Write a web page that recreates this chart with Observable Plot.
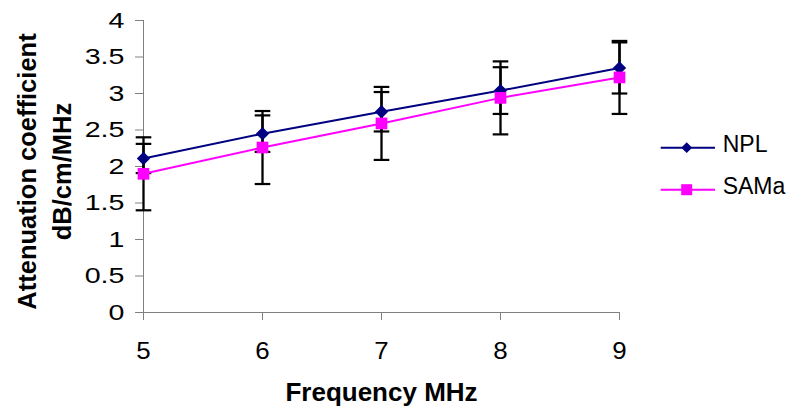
<!DOCTYPE html>
<html>
<head>
<meta charset="utf-8">
<script src="https://cdn.jsdelivr.net/npm/d3@7"></script>
<script src="https://cdn.jsdelivr.net/npm/@observablehq/plot@0.6"></script>
<style>
  html, body { margin: 0; padding: 0; background: #fff; }
  #chart { position: relative; width: 797px; height: 414px; font-family: "Liberation Sans", Arial, sans-serif; }
  #legend { position: absolute; left: 650px; top: 120px; }
</style>
</head>
<body>
<div id="chart"></div>
<script>
// ---- data ----
const frequency = [5, 6, 7, 8, 9];
const nplValues = [2.11, 2.45, 2.75, 3.04, 3.35];
const nplErrors = [0.20, 0.25, 0.27, 0.32, 0.35];
const samaValues = [1.90, 2.26, 2.59, 2.94, 3.22];
const samaErrors = [0.5, 0.5, 0.5, 0.5, 0.5];
const seriesNames = ["NPL", "SAMa"];
const seriesColors = ["#000080", "#FF00FF"];
const xTicks = [5, 6, 7, 8, 9];
const yTicks = [0, 0.5, 1, 1.5, 2, 2.5, 3, 3.5, 4];
const xTitle = "Frequency MHz";
const yTitle = "Attenuation coefficient\ndB/cm/MHz";

// ---- build table ----
const rows = [];
frequency.forEach((f, i) => {
  rows.push({freq: f, value: nplValues[i], err: nplErrors[i], series: seriesNames[0]});
});
frequency.forEach((f, i) => {
  rows.push({freq: f, value: samaValues[i], err: samaErrors[i], series: seriesNames[1]});
});
const caps = rows.flatMap(d => [{freq: d.freq, y: d.value - d.err}, {freq: d.freq, y: d.value + d.err}]);

const capSymbol = {
  draw(context, size) {
    const r = Math.sqrt(size / Math.PI);
    context.moveTo(-r, 0);
    context.lineTo(r, 0);
  }
};

const font = '"Liberation Sans", Arial, sans-serif';
const axisGray = "#808080";

const svg = Plot.plot({
  width: 797,
  height: 414,
  marginTop: 20,
  marginLeft: 143,
  marginRight: 178,
  marginBottom: 102,
  style: {fontFamily: font, fontSize: "22px", color: "black", background: "white"},
  x: {domain: [5, 9], label: null},
  y: {domain: [0, 4], label: null},
  color: {domain: seriesNames, range: seriesColors},
  marks: [
    Plot.ruleX([5], {stroke: axisGray, strokeWidth: 1}),
    Plot.ruleY([0], {stroke: axisGray, strokeWidth: 1}),
    Plot.axisY(yTicks, {tickSize: 8, tickPadding: 11, stroke: axisGray, fill: "black", tickFormat: d => String(d), label: null, fontSize: 22}),
    Plot.axisX(xTicks, {tickSize: 8, tickPadding: 21, stroke: axisGray, fill: "black", tickFormat: d => String(d), label: null, fontSize: 24}),
    // error bars
    Plot.ruleX(rows, {x: "freq", y1: d => d.value - d.err, y2: d => d.value + d.err, stroke: "black", strokeWidth: 2.3}),
    Plot.dot(caps, {x: "freq", y: "y", symbol: capSymbol, r: 7.8, fill: "none", stroke: "black", strokeWidth: 2.2}),
    // NPL
    Plot.line(rows.filter(d => d.series === seriesNames[0]), {x: "freq", y: "value", stroke: "series", strokeWidth: 2}),
    Plot.dot(rows.filter(d => d.series === seriesNames[0]), {x: "freq", y: "value", symbol: "diamond2", r: 6, fill: "series", stroke: "none"}),
    // SAMa
    Plot.line(rows.filter(d => d.series === seriesNames[1]), {x: "freq", y: "value", stroke: "series", strokeWidth: 2}),
    Plot.dot(rows.filter(d => d.series === seriesNames[1]), {x: "freq", y: "value", symbol: "square", r: 6.6, fill: "series", stroke: "none"}),
    // titles
    Plot.text([xTitle], {frameAnchor: "bottom", dy: 80, textAnchor: "middle", lineAnchor: "middle", fontWeight: "bold", fontSize: 26, fill: "black"}),
    Plot.text([yTitle], {frameAnchor: "left", rotate: -90, dx: -101, dy: 5, textAnchor: "middle", lineAnchor: "middle", lineHeight: 1.38, fontWeight: "bold", fontSize: 25.5, fill: "black"})
  ]
});

const chart = document.getElementById("chart");
chart.appendChild(svg);

// widen the axis tick labels a little (the reference glyphs are horizontally stretched)
d3.select(svg).selectAll("text").each(function() {
  const t = this.textContent.trim();
  if (!/^\d+(\.\d+)?$/.test(t)) return;
  let anchor = null;
  for (let el = this; el && el !== svg; el = el.parentNode) {
    const a = el.getAttribute && el.getAttribute("text-anchor");
    if (a) { anchor = a; break; }
  }
  const factor = anchor === "end" ? 1.3 : 1.08;
  const len = this.getComputedTextLength();
  if (len > 0) {
    this.setAttribute("textLength", (len * factor).toFixed(1));
    this.setAttribute("lengthAdjust", "spacingAndGlyphs");
  }
});

// ---- legend ----
const legend = d3.select(chart).append("svg")
  .attr("id", "legend")
  .attr("width", 147)
  .attr("height", 100);
const legendRows = [
  {name: seriesNames[0], color: seriesColors[0], symbol: d3.symbolDiamond2, size: 75, y: 27.7, base: 31.7},
  {name: seriesNames[1], color: seriesColors[1], symbol: d3.symbolSquare, size: 121, y: 69.7, base: 74}
];
legendRows.forEach(r => {
  const g = legend.append("g");
  g.append("line").attr("x1", 10.7).attr("x2", 65).attr("y1", r.y).attr("y2", r.y)
    .attr("stroke", r.color).attr("stroke-width", 2);
  g.append("path").attr("d", d3.symbol(r.symbol, r.size)())
    .attr("transform", `translate(36.7,${r.y})`).attr("fill", r.color);
  g.append("text").attr("x", 72.7).attr("y", r.base).text(r.name)
    .attr("font-family", font).attr("font-size", 23).attr("fill", "black");
});
</script>
</body>
</html>
